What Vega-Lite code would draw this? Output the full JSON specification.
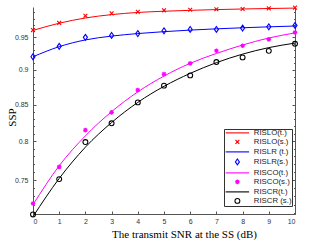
{
  "$schema": "https://vega.github.io/schema/vega-lite/v6.json",
  "width": 262,
  "height": 207,
  "autosize": {"type": "none"},
  "padding": {"left": 33, "top": 7, "right": 18, "bottom": 32},
  "background": "white",
  "config": {"view": {"stroke": null}},
  "data": {
    "values": [
      {"snr": 0, "ssp": 0.961, "label": "RISLO(t.)", "kind": "t"},
      {"snr": 1, "ssp": 0.9725, "label": "RISLO(t.)", "kind": "t"},
      {"snr": 2, "ssp": 0.981, "label": "RISLO(t.)", "kind": "t"},
      {"snr": 3, "ssp": 0.9865, "label": "RISLO(t.)", "kind": "t"},
      {"snr": 4, "ssp": 0.99, "label": "RISLO(t.)", "kind": "t"},
      {"snr": 5, "ssp": 0.992, "label": "RISLO(t.)", "kind": "t"},
      {"snr": 6, "ssp": 0.9935, "label": "RISLO(t.)", "kind": "t"},
      {"snr": 7, "ssp": 0.9947, "label": "RISLO(t.)", "kind": "t"},
      {"snr": 8, "ssp": 0.9957, "label": "RISLO(t.)", "kind": "t"},
      {"snr": 9, "ssp": 0.9965, "label": "RISLO(t.)", "kind": "t"},
      {"snr": 10, "ssp": 0.9972, "label": "RISLO(t.)", "kind": "t"},
      {"snr": 0, "ssp": 0.9615, "label": "RISLO(s.)", "kind": "s"},
      {"snr": 1, "ssp": 0.973, "label": "RISLO(s.)", "kind": "s"},
      {"snr": 2, "ssp": 0.9845, "label": "RISLO(s.)", "kind": "s"},
      {"snr": 3, "ssp": 0.9885, "label": "RISLO(s.)", "kind": "s"},
      {"snr": 4, "ssp": 0.991, "label": "RISLO(s.)", "kind": "s"},
      {"snr": 5, "ssp": 0.9935, "label": "RISLO(s.)", "kind": "s"},
      {"snr": 6, "ssp": 0.9945, "label": "RISLO(s.)", "kind": "s"},
      {"snr": 7, "ssp": 0.9952, "label": "RISLO(s.)", "kind": "s"},
      {"snr": 8, "ssp": 0.9957, "label": "RISLO(s.)", "kind": "s"},
      {"snr": 9, "ssp": 0.9967, "label": "RISLO(s.)", "kind": "s"},
      {"snr": 10, "ssp": 0.998, "label": "RISLO(s.)", "kind": "s"},
      {"snr": 0, "ssp": 0.92, "label": "RISLR (t.)", "kind": "t"},
      {"snr": 1, "ssp": 0.9355, "label": "RISLR (t.)", "kind": "t"},
      {"snr": 2, "ssp": 0.946, "label": "RISLR (t.)", "kind": "t"},
      {"snr": 3, "ssp": 0.952, "label": "RISLR (t.)", "kind": "t"},
      {"snr": 4, "ssp": 0.956, "label": "RISLR (t.)", "kind": "t"},
      {"snr": 5, "ssp": 0.959, "label": "RISLR (t.)", "kind": "t"},
      {"snr": 6, "ssp": 0.9615, "label": "RISLR (t.)", "kind": "t"},
      {"snr": 7, "ssp": 0.9635, "label": "RISLR (t.)", "kind": "t"},
      {"snr": 8, "ssp": 0.9652, "label": "RISLR (t.)", "kind": "t"},
      {"snr": 9, "ssp": 0.9667, "label": "RISLR (t.)", "kind": "t"},
      {"snr": 10, "ssp": 0.968, "label": "RISLR (t.)", "kind": "t"},
      {"snr": 0, "ssp": 0.92, "label": "RISLR(s.)", "kind": "s"},
      {"snr": 1, "ssp": 0.936, "label": "RISLR(s.)", "kind": "s"},
      {"snr": 2, "ssp": 0.95, "label": "RISLR(s.)", "kind": "s"},
      {"snr": 3, "ssp": 0.953, "label": "RISLR(s.)", "kind": "s"},
      {"snr": 4, "ssp": 0.956, "label": "RISLR(s.)", "kind": "s"},
      {"snr": 5, "ssp": 0.9604, "label": "RISLR(s.)", "kind": "s"},
      {"snr": 6, "ssp": 0.9626, "label": "RISLR(s.)", "kind": "s"},
      {"snr": 7, "ssp": 0.9626, "label": "RISLR(s.)", "kind": "s"},
      {"snr": 8, "ssp": 0.9647, "label": "RISLR(s.)", "kind": "s"},
      {"snr": 9, "ssp": 0.9668, "label": "RISLR(s.)", "kind": "s"},
      {"snr": 10, "ssp": 0.969, "label": "RISLR(s.)", "kind": "s"},
      {"snr": 0, "ssp": 0.72, "label": "RISCO(t.)", "kind": "t"},
      {"snr": 1, "ssp": 0.768, "label": "RISCO(t.)", "kind": "t"},
      {"snr": 2, "ssp": 0.807, "label": "RISCO(t.)", "kind": "t"},
      {"snr": 3, "ssp": 0.84, "label": "RISCO(t.)", "kind": "t"},
      {"snr": 4, "ssp": 0.868, "label": "RISCO(t.)", "kind": "t"},
      {"snr": 5, "ssp": 0.891, "label": "RISCO(t.)", "kind": "t"},
      {"snr": 6, "ssp": 0.91, "label": "RISCO(t.)", "kind": "t"},
      {"snr": 7, "ssp": 0.925, "label": "RISCO(t.)", "kind": "t"},
      {"snr": 8, "ssp": 0.938, "label": "RISCO(t.)", "kind": "t"},
      {"snr": 9, "ssp": 0.949, "label": "RISCO(t.)", "kind": "t"},
      {"snr": 10, "ssp": 0.957, "label": "RISCO(t.)", "kind": "t"},
      {"snr": 0, "ssp": 0.7215, "label": "RISCO(s.)", "kind": "s"},
      {"snr": 1, "ssp": 0.7666, "label": "RISCO(s.)", "kind": "s"},
      {"snr": 2, "ssp": 0.8147, "label": "RISCO(s.)", "kind": "s"},
      {"snr": 3, "ssp": 0.839, "label": "RISCO(s.)", "kind": "s"},
      {"snr": 4, "ssp": 0.8705, "label": "RISCO(s.)", "kind": "s"},
      {"snr": 5, "ssp": 0.8939, "label": "RISCO(s.)", "kind": "s"},
      {"snr": 6, "ssp": 0.9099, "label": "RISCO(s.)", "kind": "s"},
      {"snr": 7, "ssp": 0.9291, "label": "RISCO(s.)", "kind": "s"},
      {"snr": 8, "ssp": 0.9368, "label": "RISCO(s.)", "kind": "s"},
      {"snr": 9, "ssp": 0.9468, "label": "RISCO(s.)", "kind": "s"},
      {"snr": 10, "ssp": 0.9578, "label": "RISCO(s.)", "kind": "s"},
      {"snr": 0, "ssp": 0.706, "label": "RISCR(t.)", "kind": "t"},
      {"snr": 1, "ssp": 0.752, "label": "RISCR(t.)", "kind": "t"},
      {"snr": 2, "ssp": 0.792, "label": "RISCR(t.)", "kind": "t"},
      {"snr": 3, "ssp": 0.825, "label": "RISCR(t.)", "kind": "t"},
      {"snr": 4, "ssp": 0.853, "label": "RISCR(t.)", "kind": "t"},
      {"snr": 5, "ssp": 0.876, "label": "RISCR(t.)", "kind": "t"},
      {"snr": 6, "ssp": 0.895, "label": "RISCR(t.)", "kind": "t"},
      {"snr": 7, "ssp": 0.911, "label": "RISCR(t.)", "kind": "t"},
      {"snr": 8, "ssp": 0.924, "label": "RISCR(t.)", "kind": "t"},
      {"snr": 9, "ssp": 0.934, "label": "RISCR(t.)", "kind": "t"},
      {"snr": 10, "ssp": 0.941, "label": "RISCR(t.)", "kind": "t"},
      {"snr": 0, "ssp": 0.7085, "label": "RISCR (s.)", "kind": "s"},
      {"snr": 1, "ssp": 0.7512, "label": "RISCR (s.)", "kind": "s"},
      {"snr": 2, "ssp": 0.7987, "label": "RISCR (s.)", "kind": "s"},
      {"snr": 3, "ssp": 0.824, "label": "RISCR (s.)", "kind": "s"},
      {"snr": 4, "ssp": 0.853, "label": "RISCR (s.)", "kind": "s"},
      {"snr": 5, "ssp": 0.877, "label": "RISCR (s.)", "kind": "s"},
      {"snr": 6, "ssp": 0.892, "label": "RISCR (s.)", "kind": "s"},
      {"snr": 7, "ssp": 0.912, "label": "RISCR (s.)", "kind": "s"},
      {"snr": 8, "ssp": 0.919, "label": "RISCR (s.)", "kind": "s"},
      {"snr": 9, "ssp": 0.929, "label": "RISCR (s.)", "kind": "s"},
      {"snr": 10, "ssp": 0.94, "label": "RISCR (s.)", "kind": "s"}
    ]
  },
  "resolve": {"axis": {"x": "independent", "y": "independent"}},
  "layer": [
    {
      "transform": [{"filter": "datum.kind == 't'"}],
      "mark": {"type": "line", "strokeWidth": 1, "interpolate": "monotone"},
      "encoding": {
        "x": {
          "field": "snr", "type": "quantitative",
          "scale": {"domain": [0, 10], "nice": false},
          "axis": {
            "orient": "bottom", "values": [0, 1, 2, 3, 4, 5, 6, 7, 8, 9, 10],
            "grid": false, "tickSize": -3, "labelPadding": 6,
            "labelFont": "Liberation Sans", "labelFontSize": 7, "labelColor": "#333",
            "domainColor": "#555", "tickColor": "#555",
            "title": "The transmit SNR at the SS (dB)",
            "titleFont": "Liberation Serif", "titleFontSize": 11, "titleFontWeight": "normal",
            "titleColor": "#000", "titleX": 151, "titlePadding": 4
          }
        },
        "y": {
          "field": "ssp", "type": "quantitative",
          "scale": {"type": "log", "domain": [0.709, 0.999], "nice": false},
          "axis": {
            "orient": "left", "values": [0.75, 0.8, 0.85, 0.9, 0.95], "format": ".2~f",
            "grid": false, "tickSize": -3, "labelPadding": 8,
            "labelFont": "Liberation Sans", "labelFontSize": 7, "labelColor": "#333",
            "domainColor": "#555", "tickColor": "#555",
            "title": "SSP",
            "titleFont": "Liberation Serif", "titleFontSize": 11, "titleFontWeight": "normal",
            "titleColor": "#000", "titleX": -18, "titleY": 110, "titleBaseline": "alphabetic",
            "titleAlign": "center", "titleAngle": -90
          }
        },
        "color": {
          "field": "label", "type": "nominal",
          "scale": {
            "domain": ["RISLO(t.)", "RISLO(s.)", "RISLR (t.)", "RISLR(s.)", "RISCO(t.)", "RISCO(s.)", "RISCR(t.)", "RISCR (s.)"],
            "range": ["#ff0000", "#ff0000", "#0000ff", "#0000ff", "#ff00ff", "#ff00ff", "#000000", "#000000"]
          }
        }
      }
    },
    {
      "transform": [{"filter": "datum.kind == 's'"}],
      "mark": {"type": "point", "filled": false, "size": 26, "strokeWidth": 1.1, "opacity": 1},
      "encoding": {
        "x": {"field": "snr", "type": "quantitative", "axis": null},
        "y": {"field": "ssp", "type": "quantitative", "axis": null},
        "color": {
          "field": "label", "type": "nominal",
          "legend": {
            "title": null, "orient": "none", "legendX": 191, "legendY": 122,
            "fillColor": "white", "strokeColor": "#333", "padding": 0,
            "labelFont": "Liberation Sans", "labelFontSize": 7.8, "labelColor": "#222",
            "symbolSize": 26, "symbolStrokeWidth": 1.1, "symbolOffset": 9.5, "labelOffset": 12.5,
            "rowPadding": 0, "labelLimit": 60
          }
        },
        "shape": {
          "field": "label", "type": "nominal",
          "scale": {
            "domain": ["RISLO(t.)", "RISLO(s.)", "RISLR (t.)", "RISLR(s.)", "RISCO(t.)", "RISCO(s.)", "RISCR(t.)", "RISCR (s.)"],
            "range": [
              "M-4.6,0H4.6",
              "M-0.75,-0.75L0.75,0.75M-0.75,0.75L0.75,-0.75",
              "M-4.6,0H4.6",
              "M0,-1.15L0.8,0L0,1.15L-0.8,0Z",
              "M-4.6,0H4.6",
              "M-0.9,0H0.9M0,-0.9V0.9M-0.65,-0.65L0.65,0.65M-0.65,0.65L0.65,-0.65",
              "M-4.6,0H4.6",
              "M0.95,0A0.95,0.95 0 1,1 -0.95,0A0.95,0.95 0 1,1 0.95,0"
            ]
          },
          "legend": {
            "title": null, "orient": "none", "legendX": 191, "legendY": 122,
            "fillColor": "white", "strokeColor": "#333", "padding": 0,
            "labelFont": "Liberation Sans", "labelFontSize": 7.8, "labelColor": "#222",
            "symbolSize": 26, "symbolStrokeWidth": 1.1, "symbolOffset": 9.5, "labelOffset": 12.5,
            "rowPadding": 0, "labelLimit": 60
          }
        }
      }
    },
    {
      "transform": [{"filter": "datum.kind == 's'"}],
      "mark": {"type": "point", "opacity": 0},
      "encoding": {
        "x": {"field": "snr", "type": "quantitative", "axis": null},
        "y": {
          "field": "ssp", "type": "quantitative",
          "axis": {
            "orient": "right", "values": [0.75, 0.8, 0.85, 0.9, 0.95], "labels": false,
            "grid": false, "tickSize": -3, "title": null,
            "domainColor": "#555", "tickColor": "#555"
          }
        }
      }
    },
    {
      "transform": [{"filter": "datum.kind == 's'"}],
      "mark": {"type": "point", "opacity": 0},
      "encoding": {
        "x": {"field": "snr", "type": "quantitative", "axis": null},
        "y": {
          "field": "ssp", "type": "quantitative",
          "axis": {
            "orient": "right",
            "values": [0.71, 0.72, 0.73, 0.74, 0.76, 0.77, 0.78, 0.79, 0.81, 0.82, 0.83, 0.84, 0.86, 0.87, 0.88, 0.89, 0.91, 0.92, 0.93, 0.94, 0.96, 0.97, 0.98, 0.99],
            "labels": false, "domain": false, "grid": false, "tickSize": -1.5, "title": null,
            "tickColor": "#555"
          }
        }
      }
    },
    {
      "transform": [{"filter": "datum.kind == 's'"}],
      "mark": {"type": "point", "opacity": 0},
      "encoding": {
        "x": {"field": "snr", "type": "quantitative", "axis": null},
        "y": {
          "field": "ssp", "type": "quantitative",
          "axis": {
            "orient": "left",
            "values": [0.71, 0.72, 0.73, 0.74, 0.76, 0.77, 0.78, 0.79, 0.81, 0.82, 0.83, 0.84, 0.86, 0.87, 0.88, 0.89, 0.91, 0.92, 0.93, 0.94, 0.96, 0.97, 0.98, 0.99],
            "labels": false, "domain": false, "grid": false, "tickSize": -1.5, "title": null,
            "tickColor": "#555"
          }
        }
      }
    }
  ]
}
